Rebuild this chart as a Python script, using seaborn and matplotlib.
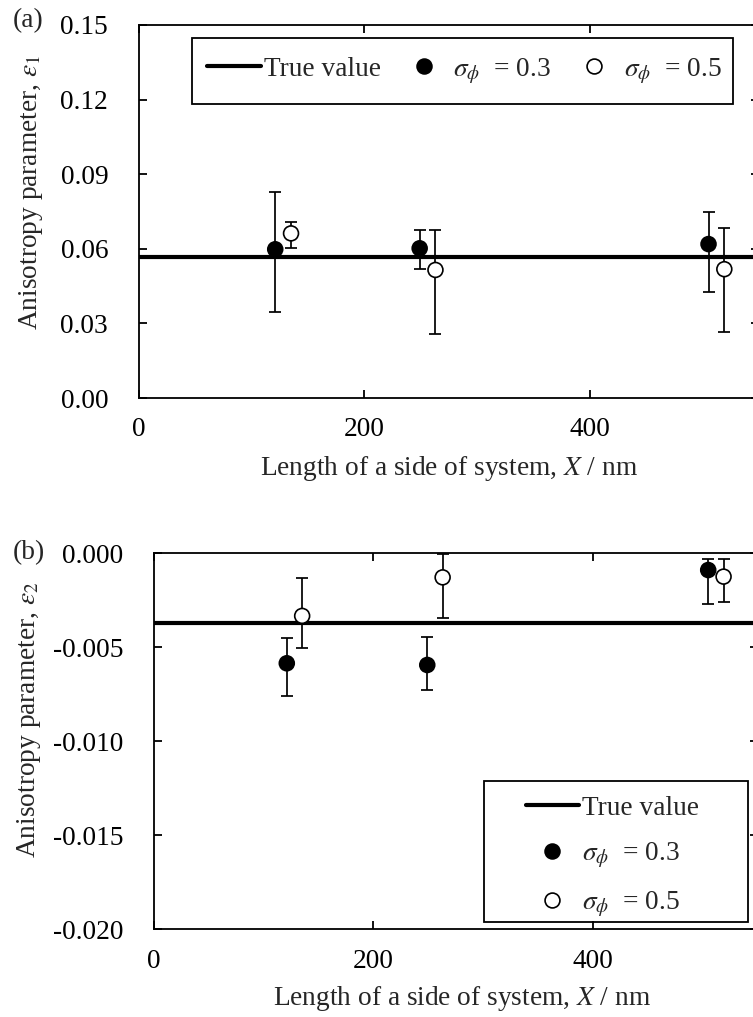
import numpy as np
import pandas as pd
import matplotlib
matplotlib.use("Agg")
import matplotlib.pyplot as plt
from matplotlib.lines import Line2D
from matplotlib.patches import Rectangle
from matplotlib.ticker import FixedLocator, FormatStrFormatter
import seaborn as sns

# ---- data -------------------------------------------------------------
# system side length (nm); the two series are shifted sideways for legibility
x_s03 = [121, 249, 505]
x_s05 = [135, 263, 519]

# (a) anisotropy parameter epsilon_1: mean, lower and upper error-bar ends
eps1_true = 0.0567
eps1_s03 = [0.0598, 0.0602, 0.0619]
eps1_s03_low = [0.0345, 0.0520, 0.0426]
eps1_s03_high = [0.0829, 0.0674, 0.0749]
eps1_s05 = [0.0662, 0.0515, 0.0518]
eps1_s05_low = [0.0602, 0.0257, 0.0265]
eps1_s05_high = [0.0709, 0.0676, 0.0685]

# (b) anisotropy parameter epsilon_2
eps2_true = -0.00372
eps2_s03 = [-0.00585, -0.00594, -0.00089]
eps2_s03_low = [-0.00757, -0.00727, -0.00271]
eps2_s03_high = [-0.00452, -0.00447, -0.00032]
eps2_s05 = [-0.00333, -0.00128, -0.00124]
eps2_s05_low = [-0.00502, -0.00346, -0.00257]
eps2_s05_high = [-0.00130, -0.00004, -0.00032]

sigma_labels = ["0.3", "0.5"]
x_ticks = [0, 200, 400]
eps1_ticks = [0.00, 0.03, 0.06, 0.09, 0.12, 0.15]
eps2_ticks = [-0.020, -0.015, -0.010, -0.005, 0.000]

# ---- style ------------------------------------------------------------
sns.set_theme(style="ticks")
plt.rcParams["font.family"] = ["Liberation Serif", "DejaVu Serif"]
plt.rcParams["mathtext.fontset"] = "stix"
plt.rcParams["axes.unicode_minus"] = False
plt.rcParams["axes.linewidth"] = 1.3
plt.rcParams["axes.edgecolor"] = "black"

FS = 19.7
W, H = 753, 1017
fig = plt.figure(figsize=(W / 100, H / 100), dpi=100)
fig.patch.set_facecolor("white")


def frame(df_x, vals, low, high, sigma):
    return pd.DataFrame({
        "X": df_x, "value": vals,
        "err_lo": np.array(vals) - np.array(low),
        "err_hi": np.array(high) - np.array(vals),
        "sigma": sigma,
    })


def panel(ax, true_val, d03, d05, yticks, fmt, ylim, ylabel):
    df = pd.concat([d03, d05], ignore_index=True)
    ax.axhline(true_val, color="black", lw=3.0, zorder=1)
    ax.errorbar(df["X"], df["value"], yerr=[df["err_lo"], df["err_hi"]],
                fmt="none", ecolor="black", elinewidth=1.25, capsize=4.3,
                capthick=1.25, zorder=2)
    sns.scatterplot(data=df, x="X", y="value", hue="sigma",
                    palette={sigma_labels[0]: "black", sigma_labels[1]: "white"},
                    edgecolor="black", linewidth=1.2, s=115, legend=False,
                    ax=ax, zorder=3)
    ax.set_xlim(0, 550)
    ax.set_ylim(*ylim)
    ax.xaxis.set_major_locator(FixedLocator(x_ticks))
    ax.yaxis.set_major_locator(FixedLocator(yticks))
    ax.yaxis.set_major_formatter(FormatStrFormatter(fmt))
    ax.tick_params(direction="in", top=True, right=True, length=6, width=1.3,
                   labelsize=FS, colors="black")
    ax.tick_params(axis="x", pad=14)
    ax.tick_params(axis="y", pad=22)
    ax.set_xlabel(r"Length of a side of system, $X$ / nm", fontsize=FS)
    ax.set_ylabel(ylabel, fontsize=FS)
    for s in ax.spines.values():
        s.set_visible(True)
        s.set_linewidth(1.3)
        s.set_color("black")


def handles():
    return [
        Line2D([], [], color="black", lw=3.0),
        Line2D([], [], ls="none", marker="o", ms=10.7, mfc="black",
               mec="black", mew=1.2),
        Line2D([], [], ls="none", marker="o", ms=10.7, mfc="white",
               mec="black", mew=1.2),
    ]


labels = ["True value"] + [r"$\sigma_{\phi}$  = " + s for s in sigma_labels]

# ---- panel (a) --------------------------------------------------------
ax1 = fig.add_axes([138.7 / W, (H - 398) / H, 620.6 / W, 373 / H])
panel(ax1, eps1_true,
      frame(x_s03, eps1_s03, eps1_s03_low, eps1_s03_high, sigma_labels[0]),
      frame(x_s05, eps1_s05, eps1_s05_low, eps1_s05_high, sigma_labels[1]),
      eps1_ticks, "%.2f", (0, 0.15), r"Anisotropy parameter, $\varepsilon_1$")
ax1.xaxis.set_label_coords(0.5, -0.15)
ax1.yaxis.set_label_coords(-0.151, 0.552)
leg1 = ax1.legend(handles(), labels, ncol=3, loc="center",
                  bbox_to_anchor=(0.525, 0.877), frameon=False, fontsize=FS,
                  handlelength=1.95, handletextpad=0.1, columnspacing=0.6)
ax1.add_patch(Rectangle((0.0859, 0.788), 0.8717, 0.177, transform=ax1.transAxes,
                        facecolor="none", edgecolor="black", lw=1.3, zorder=5))
fig.text(13 / W, 1 - 21 / H, "(a)", fontsize=FS, va="center", ha="left")

# ---- panel (b) --------------------------------------------------------
ax2 = fig.add_axes([154 / W, (H - 929.3) / H, 603.6 / W, 376 / H])
panel(ax2, eps2_true,
      frame(x_s03, eps2_s03, eps2_s03_low, eps2_s03_high, sigma_labels[0]),
      frame(x_s05, eps2_s05, eps2_s05_low, eps2_s05_high, sigma_labels[1]),
      eps2_ticks, "%.3f", (-0.020, 0.0), r"Anisotropy parameter, $\varepsilon_2$")
ax2.xaxis.set_label_coords(0.51, -0.146)
ax2.yaxis.set_label_coords(-0.184, 0.557)
leg2 = ax2.legend(handles(), labels, ncol=1, loc="center",
                  bbox_to_anchor=(0.759, 0.191), frameon=False, fontsize=FS,
                  handlelength=1.95, handletextpad=0.1, labelspacing=0.72)
ax2.add_patch(Rectangle((0.5467, 0.0194), 0.4374, 0.375, transform=ax2.transAxes,
                        facecolor="none", edgecolor="black", lw=1.3, zorder=5))
fig.text(13 / W, 1 - 553 / H, "(b)", fontsize=FS, va="center", ha="left")

fig.savefig("out.png", dpi=100)
